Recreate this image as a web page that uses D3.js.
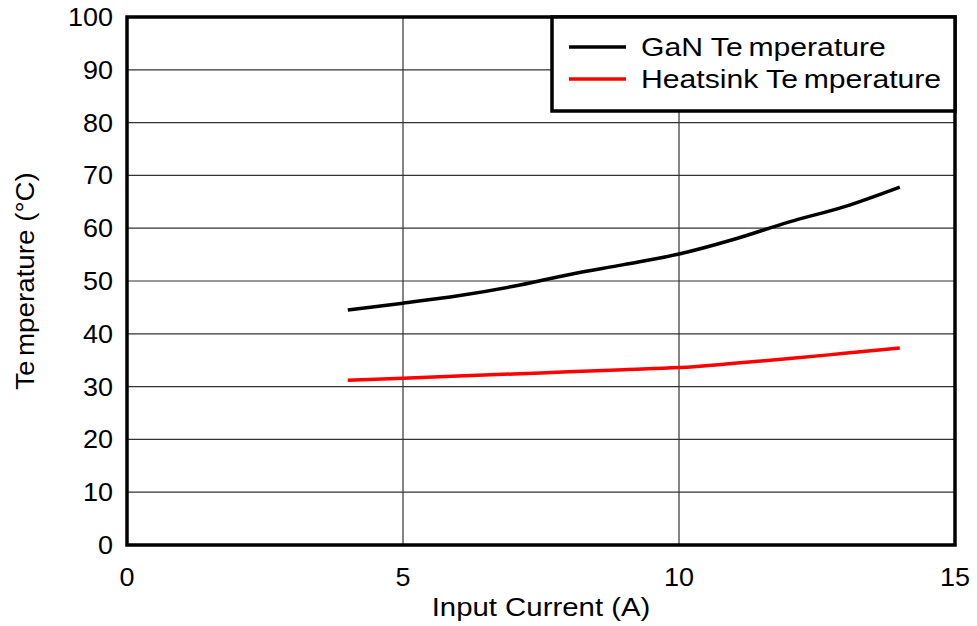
<!DOCTYPE html>
<html>
<head>
<meta charset="utf-8">
<script src="https://cdn.jsdelivr.net/npm/d3@7/dist/d3.min.js"></script>
<style>
  html, body { margin: 0; padding: 0; background: #fff; }
  text { font-family: "Liberation Sans", Arial, sans-serif; fill: #000; }
</style>
</head>
<body>
<svg id="chart" width="977" height="626"></svg>
<script>
// Input current (A)
const current = [4, 5, 6, 7, 8, 9, 10, 11, 12, 13, 14];
// GaN device temperature (°C)
const ganTemp = [44.5, 45.8, 47.2, 49.0, 51.2, 53.1, 55.1, 57.9, 61.2, 64.1, 67.8];
// Heatsink temperature (°C)
const heatsinkTemp = [31.2, 31.6, 32.0, 32.4, 32.8, 33.2, 33.6, 34.4, 35.3, 36.3, 37.3];

const xTicks = [0, 5, 10, 15];
const yTicks = [0, 10, 20, 30, 40, 50, 60, 70, 80, 90, 100];

const seriesNames = ["GaN Temperature", "Heatsink Temperature"];
const seriesColors = ["#000000", "#ff0000"];

const svg = d3.select("#chart");
const margin = { left: 127, right: 22, top: 17, bottom: 81 };
const W = 977, H = 626;
const x0 = margin.left, x1 = W - margin.right;
const y0 = H - margin.bottom, y1 = margin.top;

const x = d3.scaleLinear().domain([0, 15]).range([x0, x1]);
const y = d3.scaleLinear().domain([0, 100]).range([y0, y1]);

// Wide-set text: place at (px, py) and stretch horizontally
function wideText(sel, px, py, sx, size, anchor, rot) {
  return sel.append("text")
    .attr("transform", `translate(${px},${py})${rot ? " rotate(" + rot + ")" : ""} scale(${sx},1)`)
    .attr("text-anchor", anchor)
    .attr("font-size", size);
}

// Grid lines
const grid = svg.append("g");
grid.selectAll("line.h").data(yTicks).join("line")
  .attr("x1", x0).attr("x2", x1)
  .attr("y1", d => y(d)).attr("y2", d => y(d))
  .attr("stroke", "#333").attr("stroke-width", 1.2);
grid.selectAll("line.v").data(xTicks).join("line")
  .attr("y1", y0).attr("y2", y1)
  .attr("x1", d => x(d)).attr("x2", d => x(d))
  .attr("stroke", "#333").attr("stroke-width", 1.2);

// Tick labels from the axis scales
const yLab = svg.append("g");
yTicks.forEach(v => {
  wideText(yLab, 113, y(v) + 9, 1.08, 25, "end").text(y.tickFormat()(v));
});
const xLab = svg.append("g");
xTicks.forEach(v => {
  wideText(xLab, x(v), 586, 1.08, 25, "middle").text(x.tickFormat()(v));
});

// Series lines
const line = d3.line()
  .x((d, i) => x(current[i]))
  .y(d => y(d))
  .curve(d3.curveMonotoneX);

[ganTemp, heatsinkTemp].forEach((vals, k) => {
  svg.append("path")
    .datum(vals)
    .attr("d", line)
    .attr("fill", "none")
    .attr("stroke", seriesColors[k])
    .attr("stroke-width", 3.5);
});

// Plot frame
svg.append("rect")
  .attr("x", x0).attr("y", y1)
  .attr("width", x1 - x0).attr("height", y0 - y1)
  .attr("fill", "none").attr("stroke", "#000").attr("stroke-width", 3.5);

// Legend
const lg = svg.append("g");
lg.append("rect")
  .attr("x", 552).attr("y", y1)
  .attr("width", x1 - 552).attr("height", 94)
  .attr("fill", "#fff").attr("stroke", "#000").attr("stroke-width", 3.5);
seriesNames.forEach((name, k) => {
  const ly = 47 + k * 32;
  lg.append("line")
    .attr("x1", 569).attr("x2", 626)
    .attr("y1", ly).attr("y2", ly)
    .attr("stroke", seriesColors[k]).attr("stroke-width", 3.5);
  const parts = name.split("Temperature");
  const t = wideText(lg, 641, ly + 9, 1.16, 26, "start");
  t.append("tspan").text(parts[0] + "Te");
  t.append("tspan").attr("dx", 5).text("mperature");
});

// Axis titles
wideText(svg, 541, 616, 1.13, 26, "middle").text("Input Current (A)");

const yt = wideText(svg, 34, 281, 1.11, 25, "middle", -90);
yt.append("tspan").text("Te");
yt.append("tspan").attr("dx", 4).text("mperature (°C)");
</script>
</body>
</html>
